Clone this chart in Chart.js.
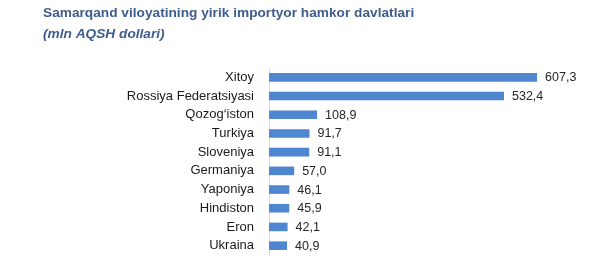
<!DOCTYPE html>
<html>
<head>
<meta charset="utf-8">
<script src="https://cdn.jsdelivr.net/npm/chart.js@4"></script>
<style>
html,body{margin:0;padding:0;background:#fff;}
#wrap{width:602px;height:262px;position:relative;}
</style>
</head>
<body>
<div id="wrap"><canvas id="c"></canvas></div>
<script>
const categories = ["Xitoy","Rossiya Federatsiyasi","Qozog\u2018iston","Turkiya","Sloveniya","Germaniya","Yaponiya","Hindiston","Eron","Ukraina"];
const values = [607.3,532.4,108.9,91.7,91.1,57.0,46.1,45.9,42.1,40.9];
const titleLine1 = "Samarqand viloyatining yirik importyor hamkor davlatlari";
const titleLine2 = "(mln AQSH dollari)";

const titlePlugin = {
  id: 'titles',
  afterDraw(chart){
    const ctx = chart.ctx;
    ctx.save();
    ctx.fillStyle = '#3E5C8E';
    ctx.textBaseline = 'middle';
    ctx.textAlign = 'left';
    ctx.font = 'bold 13.7px "Liberation Sans", Arial, sans-serif';
    ctx.fillText(titleLine1, 43, 13);
    ctx.font = 'italic bold 13.7px "Liberation Sans", Arial, sans-serif';
    ctx.fillText(titleLine2, 43, 34);
    ctx.restore();
  }
};

const valueLabels = {
  id: 'valueLabels',
  afterDatasetsDraw(chart){
    const ctx = chart.ctx;
    const meta = chart.getDatasetMeta(0);
    ctx.save();
    ctx.fillStyle = '#262626';
    ctx.font = '12.5px "Liberation Sans", Arial, sans-serif';
    ctx.textBaseline = 'middle';
    ctx.textAlign = 'left';
    meta.data.forEach((bar, i) => {
      ctx.fillText(values[i].toFixed(1).replace('.', ','), bar.x + 8, bar.y + 0.5);
    });
    ctx.restore();
  }
};

new Chart(document.getElementById('c'), {
  type: 'bar',
  data: {
    labels: categories,
    datasets: [{
      data: values,
      backgroundColor: '#4F86D0',
      borderWidth: 0,
      barPercentage: 0.46,
      categoryPercentage: 1.0
    }]
  },
  options: {
    indexAxis: 'y',
    responsive: true,
    maintainAspectRatio: false,
    animation: false,
    layout: { padding: { top: 68, bottom: 7, left: 43, right: 24 } },
    plugins: { legend: { display: false }, tooltip: { enabled: false }, title: { display: false } },
    scales: {
      x: { display: false, min: 0, max: 700 },
      y: {
        grid: { display: false, drawTicks: false },
        border: { display: true, color: '#D5DDE6', width: 1 },
        ticks: {
          color: '#1A1A1A',
          font: { family: '"Liberation Sans", Arial, sans-serif', size: 13 },
          padding: 15
        },
        afterFit(scale){ scale.width = 226; scale.paddingTop = 0; scale.paddingBottom = 0; }
      }
    }
  },
  plugins: [titlePlugin, valueLabels]
});
</script>
</body>
</html>
